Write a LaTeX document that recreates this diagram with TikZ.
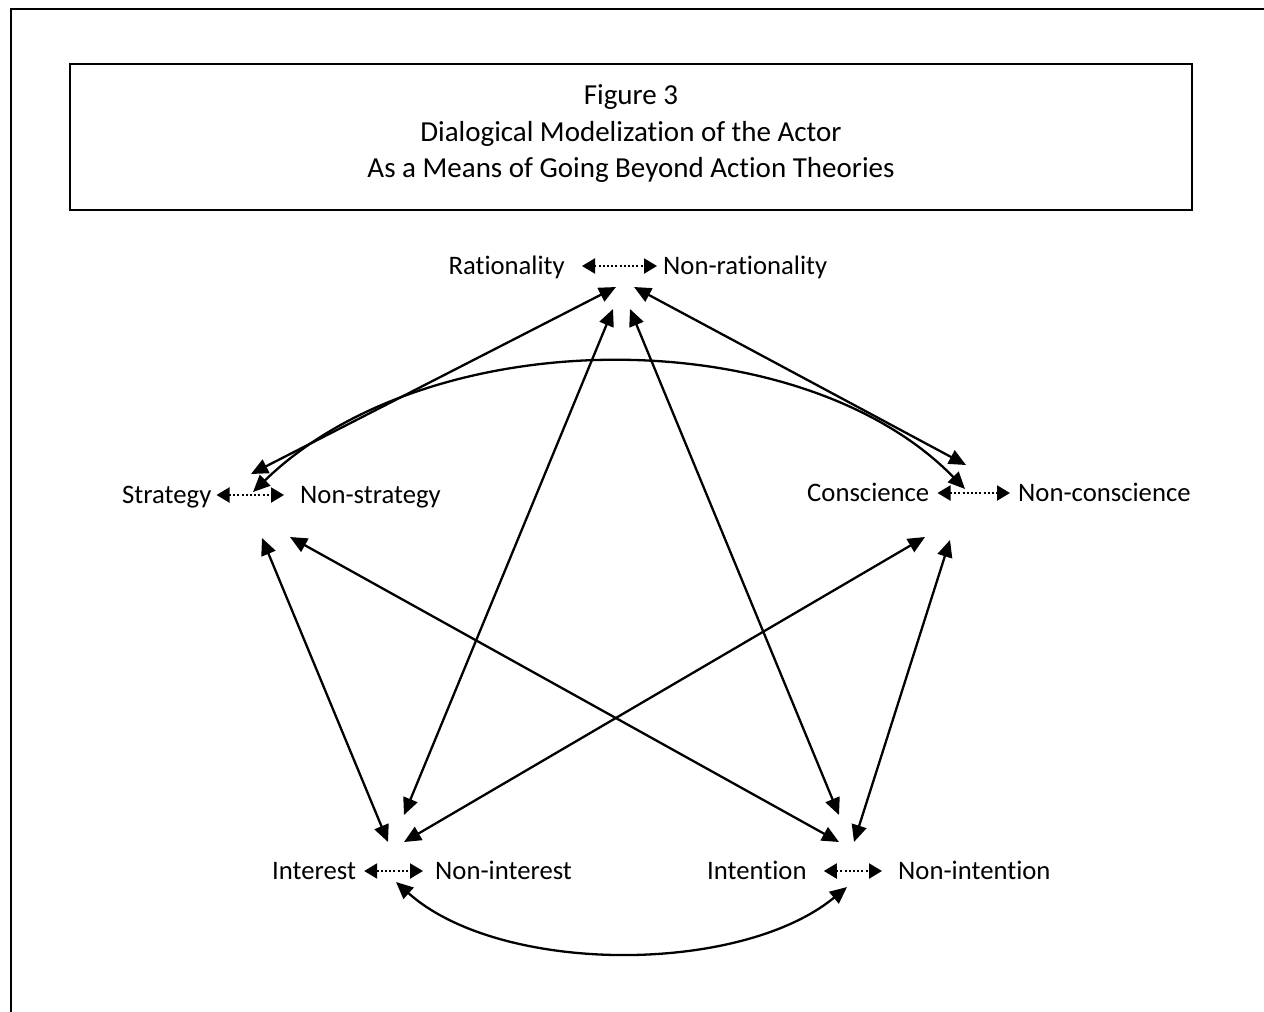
\documentclass[tikz,border=0pt]{standalone}
\usepackage{fontspec}
\setmainfont[Ligatures=NoCommon]{Carlito}
\usetikzlibrary{arrows.meta,calc}
\begin{document}
\begin{tikzpicture}[x=1pt,y=-1pt,
  lbl/.style={anchor=base west, inner sep=0pt, font=\fontsize{26.7}{32}\selectfont},
  ttl/.style={anchor=base, inner sep=0pt, font=\fontsize{29}{35}\selectfont},
  link/.style={line width=2.3pt, {Triangle[length=17pt,width=15pt]}-{Triangle[length=17pt,width=15pt]}},
  pair/.style={line width=2.2pt, dash pattern=on 2pt off 2.2pt,
    {Triangle[length=13pt,width=15pt]}-{Triangle[length=13pt,width=15pt]}},
]
\useasboundingbox (0,0) rectangle (1264,1012);

% page frame and title box
\draw[line width=2pt] (11,1012) -- (11,9) -- (1264,9);
\draw[line width=1.4pt] (70,64) rectangle (1192,210);
\node[ttl] (t1) at (631,104) {Figure 3};
\node[ttl] (t2) at (631,141) {Dialogical Modelization of the Actor};
\node[ttl] (t3) at (631,177) {As a Means of Going Beyond Action Theories};

% pairs of opposite poles
\node[lbl,anchor=base east] (rat) at (565,274) {Rationality};
\node[lbl] (nrat)  at (663,274) {Non-rationality};
\node[lbl] (str)   at (122,503) {Strategy};
\node[lbl] (nstr)  at (300,503) {Non-strategy};
\node[lbl] (con)   at (807,501) {Conscience};
\node[lbl] (ncon)  at (1018,501) {Non-conscience};
\node[lbl] (int)   at (272,879) {Interest};
\node[lbl] (nint)  at (435,879) {Non-interest};
\node[lbl] (inte)  at (707,879) {Intention};
\node[lbl] (ninte) at (898,879) {Non-intention};

\draw[pair] ($(rat.base east)+(17,-8)$) -- ($(nrat.base west)+(-6,-8)$);
\draw[pair] ($(str.base east)+(5,-8)$) -- ($(nstr.base west)+(-16,-8)$);
\draw[pair] ($(con.base east)+(8,-8)$) -- ($(ncon.base west)+(-8,-8)$);
\draw[pair] ($(int.base east)+(8,-8)$) -- ($(nint.base west)+(-12,-8)$);
\draw[pair] ($(inte.base east)+(17,-8)$) -- ($(ninte.base west)+(-16,-8)$);

% connector ends around each pair
\coordinate (rS) at (616,287);
\coordinate (rC) at (634,287);
\coordinate (rI) at (613,309);
\coordinate (rT) at (630,309);
\coordinate (sR) at (251,474);
\coordinate (sC) at (253,492);
\coordinate (sI) at (262,538);
\coordinate (sT) at (290,537);
\coordinate (cR) at (966,465);
\coordinate (cS) at (965,489);
\coordinate (cI) at (925,537);
\coordinate (cT) at (950,540);
\coordinate (iS) at (388,842);
\coordinate (iR) at (404,815);
\coordinate (iC) at (404,842);
\coordinate (iT) at (396,882);
\coordinate (tS) at (839,842);
\coordinate (tR) at (839,815);
\coordinate (tC) at (854,842);
\coordinate (tI) at (847,887);

% links between the pairs
\draw[link] (sR) -- (rS);
\draw[link] (rC) -- (cR);
\draw[link] (sC) .. controls (430,320) and (800,320) .. (cS);
\draw[link] (sI) -- (iS);
\draw[link] (sT) -- (tS);
\draw[link] (rI) -- (iR);
\draw[link] (rT) -- (tR);
\draw[link] (cI) -- (iC);
\draw[link] (cT) -- (tC);
\draw[link] (iT) .. controls (500,975) and (740,975) .. (tI);
\end{tikzpicture}
\end{document}
